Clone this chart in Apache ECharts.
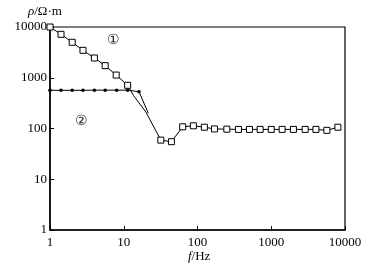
<!DOCTYPE html>
<html><head><meta charset="utf-8">
<script src="https://cdn.jsdelivr.net/npm/echarts@6/dist/echarts.min.js"></script>
<style>html,body{margin:0;padding:0;background:#fff}#c{width:369px;height:269px}</style>
</head><body><div id="c"></div>
<script>
// Curve 1 (open squares)
var f1 = [1, 1.41, 2, 2.8, 4, 5.6, 7.9, 11.3, 31.8, 44.3, 63, 88, 124, 170, 250, 359, 506, 707, 1000, 1406, 2000, 2884, 4030, 5680, 8010];
var rho1 = [10000, 7180, 5000, 3470, 2450, 1730, 1130, 710, 59, 55, 108, 113, 106, 98, 97, 96, 96, 96, 96, 96, 96, 96, 96, 92, 106];
// Curve 1 transition points (no marker)
var f1Mid = [13.5, 20];
var rho1Mid = [450, 210];
// Curve 2 (dots)
var f2 = [1, 1.41, 2, 2.8, 4, 5.6, 8, 11.3, 16.1];
var rho2 = [566, 566, 566, 566, 570, 570, 570, 570, 530];
var f2Mid = [21.5];
var rho2Mid = [200];
var xTicks = [1, 10, 100, 1000, 10000];
var yTicks = [1, 10, 100, 1000, 10000];

function pairs(fx, ry) { return fx.map(function (v, i) { return [v, ry[i]]; }); }
function sortP(a) { return a.sort(function (p, q) { return p[0] - q[0]; }); }
var line1 = sortP(pairs(f1, rho1).concat(pairs(f1Mid, rho1Mid)));
var line2 = sortP(pairs(f2, rho2).concat(pairs(f2Mid, rho2Mid)));

var font = 'Liberation Serif';
var chart = echarts.init(document.getElementById('c'));
chart.setOption({
  animation: false,
  backgroundColor: '#fff',
  grid: { left: 50, top: 27, right: 24, bottom: 39, show: true, borderColor: '#000', borderWidth: 1.2, backgroundColor: 'transparent' },
  xAxis: {
    type: 'log', logBase: 10, min: xTicks[0], max: xTicks[xTicks.length - 1],
    axisLine: { lineStyle: { color: '#000', width: 1.5 } },
    axisTick: { inside: true, length: 4, lineStyle: { color: '#000' } },
    minorTick: { show: false },
    splitLine: { show: false },
    axisLabel: { color: '#000', fontFamily: font, fontSize: 13, margin: 6, formatter: function (v) { return String(Math.round(v)); } }
  },
  yAxis: {
    type: 'log', logBase: 10, min: yTicks[0], max: yTicks[yTicks.length - 1],
    axisLine: { lineStyle: { color: '#000', width: 1.5 } },
    axisTick: { inside: true, length: 4, lineStyle: { color: '#000' } },
    splitLine: { show: false },
    axisLabel: { color: '#000', fontFamily: font, fontSize: 13, margin: 3, formatter: function (v) { return String(Math.round(v)); } }
  },
  graphic: [
    { type: 'text', left: 28, top: 5, style: { text: '{i|ρ}/Ω·m', fontFamily: font, fontSize: 13, fill: '#000', rich: { i: { fontStyle: 'italic', fontFamily: font, fontSize: 13 } } } },
    { type: 'text', left: 188, top: 250, style: { text: '{i|f}/Hz', fontFamily: font, fontSize: 13, fill: '#000', rich: { i: { fontStyle: 'italic', fontFamily: font, fontSize: 13 } } } },
    { type: 'text', left: 107, top: 33, style: { text: '①', fontFamily: 'DejaVu Sans', fontSize: 14, fontWeight: 'lighter', fill: '#222' } },
    { type: 'text', left: 75, top: 114, style: { text: '②', fontFamily: 'DejaVu Sans', fontSize: 14, fontWeight: 'lighter', fill: '#222' } }
  ],
  series: [
    { type: 'line', data: line1, showSymbol: false, lineStyle: { color: '#000', width: 1 }, z: 2 },
    { type: 'scatter', data: pairs(f1, rho1), symbol: 'rect', symbolSize: 6, itemStyle: { color: '#fff', borderColor: '#000', borderWidth: 1, opacity: 1 }, z: 3 },
    { type: 'line', data: line2, showSymbol: false, lineStyle: { color: '#000', width: 1 }, z: 2 },
    { type: 'scatter', data: pairs(f2, rho2), symbol: 'circle', symbolSize: 3.5, itemStyle: { color: '#000', opacity: 1 }, z: 3 }
  ]
});
</script></body></html>
